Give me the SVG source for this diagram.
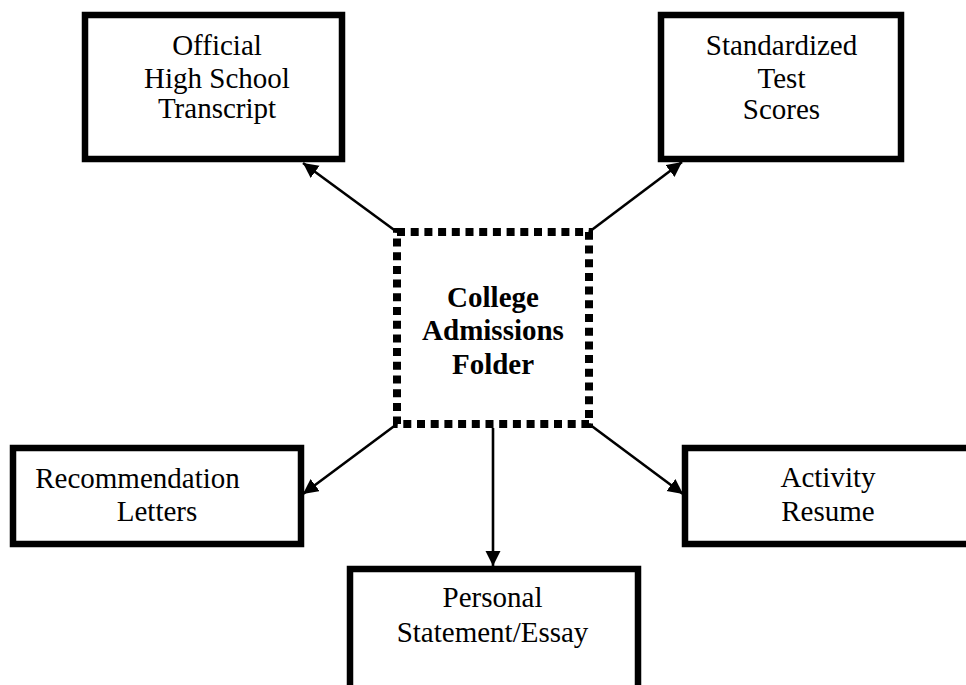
<svg xmlns="http://www.w3.org/2000/svg" width="966" height="685" viewBox="0 0 966 685">
<style>
.box{fill:#fff;stroke:#000;stroke-width:6.5}
.hub{fill:#fff;stroke:#000;stroke-width:8;stroke-dasharray:8 5.7}
.t{font-family:"Liberation Serif","Times New Roman",serif;font-size:29px;fill:#000;text-anchor:middle}
.b{font-weight:bold}
.c{stroke:#000;stroke-width:2.6;fill:none;marker-end:url(#ah)}
</style>
<defs>
<marker id="ah" markerUnits="userSpaceOnUse" markerWidth="16" markerHeight="16" refX="15" refY="7.5" orient="auto">
<path d="M0,0 L15,7.5 L0,15 z" fill="#000"/>
</marker>
</defs>
<rect width="966" height="685" fill="#fff"/>
<g id="connectors">
<line class="c" x1="397" y1="232" x2="303" y2="163"/>
<line class="c" x1="589" y1="232" x2="682" y2="162"/>
<line class="c" x1="397" y1="424" x2="303" y2="494"/>
<line class="c" x1="589" y1="424" x2="683" y2="494"/>
<line class="c" x1="493" y1="428" x2="493" y2="566"/>
</g>
<g id="hub">
<rect class="hub" x="397" y="232" width="192" height="192"/>
<text class="t b" x="493" y="307">College</text>
<text class="t b" x="493" y="340">Admissions</text>
<text class="t b" x="493" y="374">Folder</text>
</g>
<g id="transcript">
<rect class="box" x="85" y="15" width="257" height="144"/>
<text class="t" x="217" y="55">Official</text>
<text class="t" x="217" y="88">High School</text>
<text class="t" x="217" y="118">Transcript</text>
</g>
<g id="scores">
<rect class="box" x="661" y="15" width="240" height="144"/>
<text class="t" x="781.5" y="55">Standardized</text>
<text class="t" x="781.5" y="88">Test</text>
<text class="t" x="781.5" y="119">Scores</text>
</g>
<g id="letters">
<rect class="box" x="13" y="448" width="288" height="96"/>
<text class="t" x="137.5" y="488">Recommendation</text>
<text class="t" x="157" y="521">Letters</text>
</g>
<g id="resume">
<rect class="box" x="685" y="448" width="290" height="96"/>
<text class="t" x="828" y="487">Activity</text>
<text class="t" x="828" y="521">Resume</text>
</g>
<g id="essay">
<rect class="box" x="350" y="569" width="288" height="130"/>
<text class="t" x="492.5" y="607">Personal</text>
<text class="t" x="492.5" y="642">Statement/Essay</text>
</g>
</svg>
